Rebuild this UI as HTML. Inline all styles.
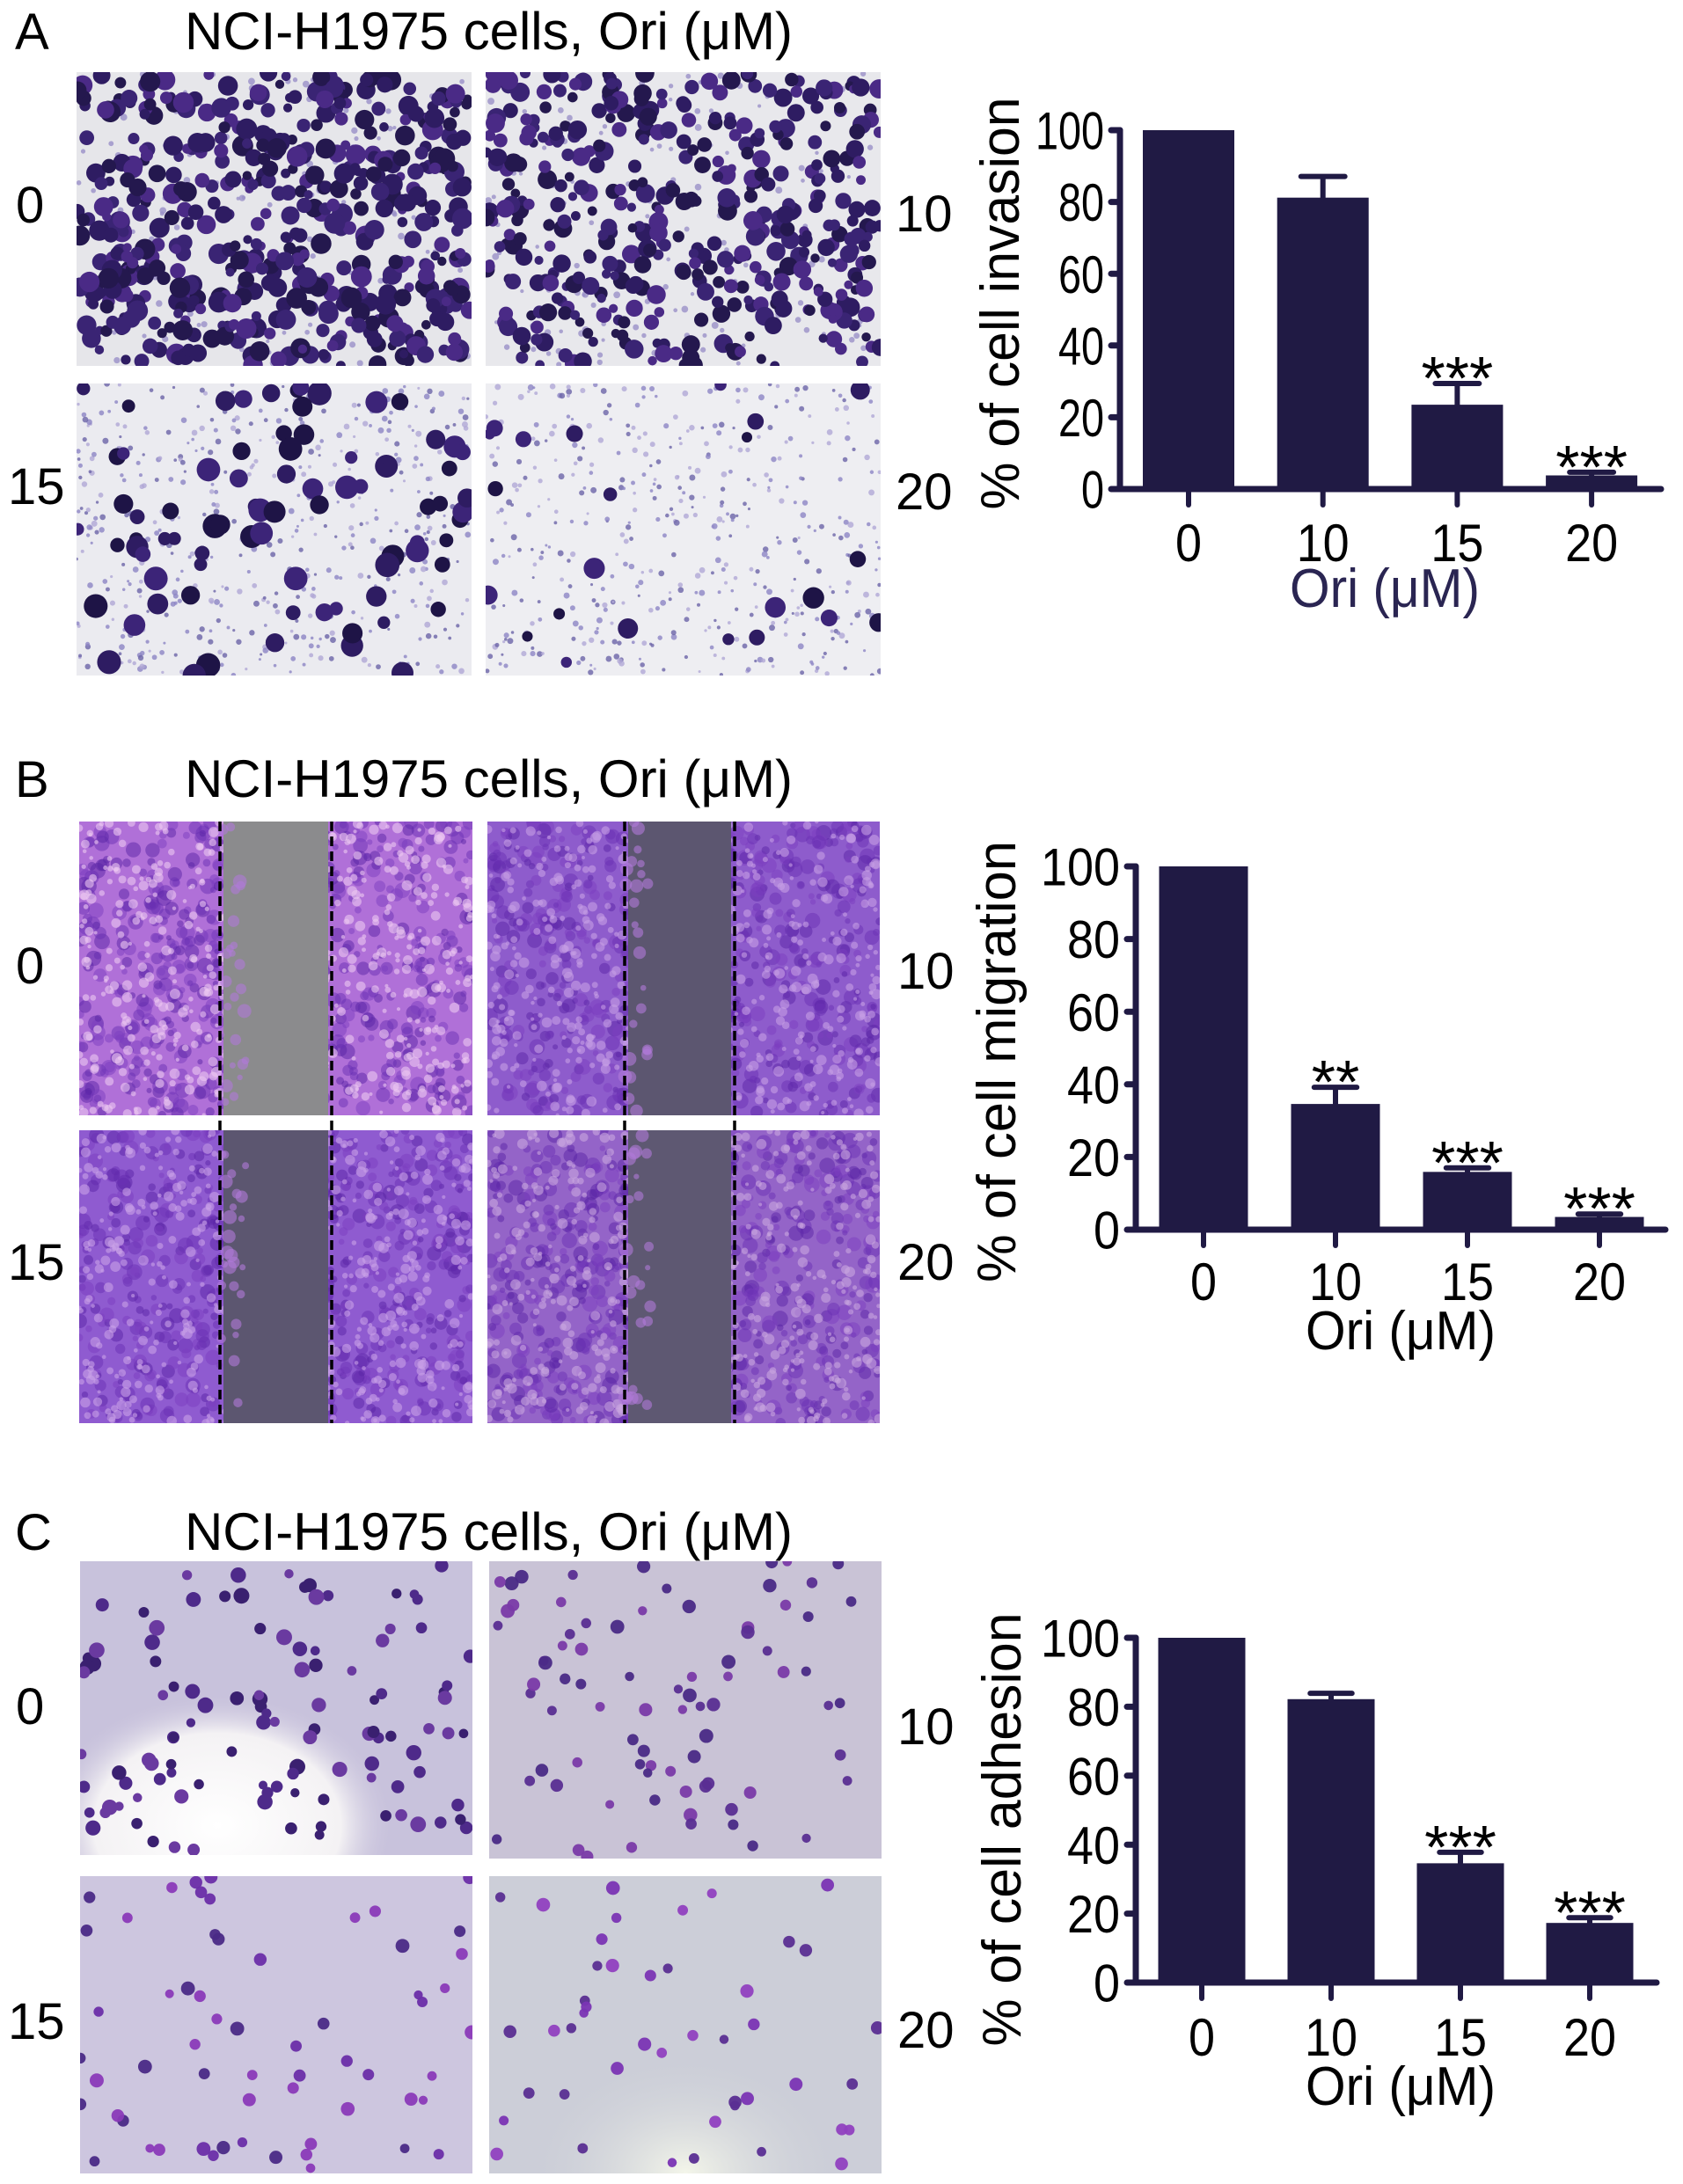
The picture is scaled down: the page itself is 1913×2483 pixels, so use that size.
<!DOCTYPE html>
<html><head><meta charset="utf-8">
<style>
html,body{margin:0;padding:0;background:#fff;}
svg{display:block;}
text{font-family:"Liberation Sans",Arial,sans-serif;}
</style></head>
<body>
<svg id="fig" xmlns="http://www.w3.org/2000/svg" width="1913" height="2483" viewBox="0 0 1913 2483">
<defs>
  <clipPath id="cA1"><rect x="87" y="82" width="449" height="334"/></clipPath>
  <clipPath id="cA2"><rect x="552" y="82" width="449" height="334"/></clipPath>
  <clipPath id="cA3"><rect x="87" y="436" width="449" height="332"/></clipPath>
  <clipPath id="cA4"><rect x="552" y="436" width="449" height="332"/></clipPath>
  <clipPath id="cB1"><rect x="90" y="934" width="447" height="334"/></clipPath>
  <clipPath id="cB2"><rect x="554" y="934" width="446" height="334"/></clipPath>
  <clipPath id="cB3"><rect x="90" y="1285" width="447" height="333"/></clipPath>
  <clipPath id="cB4"><rect x="554" y="1285" width="446" height="333"/></clipPath>
  <clipPath id="cC1"><rect x="91" y="1775" width="446" height="334"/></clipPath>
  <clipPath id="cC2"><rect x="556" y="1775" width="446" height="338"/></clipPath>
  <clipPath id="cC3"><rect x="91" y="2133" width="446" height="338"/></clipPath>
  <clipPath id="cC4"><rect x="556" y="2133" width="446" height="338"/></clipPath>
  <radialGradient id="whiteSpot" cx="0.35" cy="0.9" r="0.45"><stop offset="0" stop-color="#ffffff"/><stop offset="0.7" stop-color="#f4f2f4"/><stop offset="1" stop-color="#c9c3dc" stop-opacity="0"/></radialGradient>
  <radialGradient id="whiteSpot2" cx="0.5" cy="1" r="0.4"><stop offset="0" stop-color="#f4f6ea"/><stop offset="1" stop-color="#cdd0d8" stop-opacity="0"/></radialGradient>
</defs>

<!-- Panel headers -->
<text x="17" y="56" font-size="58">A</text>
<text x="210" y="56" font-size="60" textLength="691" lengthAdjust="spacingAndGlyphs">NCI-H1975 cells, Ori (μM)</text>
<text x="17" y="906" font-size="58">B</text>
<text x="210" y="906" font-size="60" textLength="691" lengthAdjust="spacingAndGlyphs">NCI-H1975 cells, Ori (μM)</text>
<text x="17" y="1762" font-size="58">C</text>
<text x="210" y="1762" font-size="60" textLength="691" lengthAdjust="spacingAndGlyphs">NCI-H1975 cells, Ori (μM)</text>

<!-- Row labels -->
<g font-size="58">
<text x="18" y="253">0</text>
<text x="9" y="573">15</text>
<text x="1018" y="263">10</text>
<text x="1018" y="579">20</text>
<text x="18" y="1118">0</text>
<text x="9" y="1455">15</text>
<text x="1020" y="1124">10</text>
<text x="1020" y="1455">20</text>
<text x="18" y="1960">0</text>
<text x="9" y="2318">15</text>
<text x="1020" y="1983">10</text>
<text x="1020" y="2328">20</text>
</g>

<g id="images"></g>
<g id="charts"></g>
</svg>

<script>
// ===== Chart data =====
const categories = ["0", "10", "15", "20"];
const yTickLabels = ["0", "20", "40", "60", "80", "100"];
const invasionValues = [100, 81.2, 23.5, 3.8];
const invasionErrors = [0, 5.9, 5.9, 0.9];
const invasionSig = ["", "", "***", "***"];
const migrationValues = [100, 34.6, 15.9, 3.5];
const migrationErrors = [0, 4.6, 1.1, 0.8];
const migrationSig = ["", "**", "***", "***"];
const adhesionValues = [100, 82.2, 34.6, 17.3];
const adhesionErrors = [0, 1.7, 3.2, 1.5];
const adhesionSig = ["", "", "***", "***"];

const NS = "http://www.w3.org/2000/svg";
const BAR = "#201a44";
function mk(tag, attrs, parent) {
  const e = document.createElementNS(NS, tag);
  for (const k in attrs) e.setAttribute(k, attrs[k]);
  parent.appendChild(e);
  return e;
}

function drawChart(cfg, values, errors, sig) {
  const g = mk("g", {}, document.getElementById("charts"));
  
  
  const yScale = v => cfg.y0 - (v / 100) * (cfg.y0 - cfg.y100);
  const xScale = i => cfg.c0 + i * cfg.step;
  values.forEach((v, i) => {
    const r = mk("rect", {x: xScale(i) - cfg.bw / 2, y: yScale(v), width: cfg.bw, height: cfg.y0 - yScale(v), fill: BAR}, g);
    
    
    if (errors[i] > 0) {
      const top = yScale(v + errors[i]);
      const eb = mk("path", {d: `M${xScale(i)} ${yScale(v)} V${top} M${xScale(i) - cfg.bw * 0.24} ${top} H${xScale(i) + cfg.bw * 0.24}`, stroke: BAR, "stroke-width": 6, fill: "none", "stroke-linecap": "round"}, g);
      
      
    }
    if (sig[i]) {
      const t = mk("text", {x: xScale(i), y: yScale(v + errors[i]) + 18, "font-size": 70, "text-anchor": "middle"}, g);
      t.textContent = sig[i];
      
      
    }
    const tk = mk("line", {x1: xScale(i), x2: xScale(i), y1: cfg.y0, y2: cfg.y0 + 18, stroke: BAR, "stroke-width": 6, "stroke-linecap": "round"}, g);
    
    
    const xl = mk("text", {x: xScale(i), y: cfg.xlabY, "font-size": 60, "text-anchor": "middle", textLength: categories[i].length * 30, lengthAdjust: "spacingAndGlyphs"}, g);
    xl.textContent = categories[i];
    
    
  });
  const ya = mk("line", {x1: cfg.ax, x2: cfg.ax, y1: cfg.y100, y2: cfg.y0, stroke: BAR, "stroke-width": 7, "stroke-linecap": "round"}, g);
  
  
  const xa = mk("line", {x1: cfg.ax - 8, x2: cfg.xend, y1: cfg.y0, y2: cfg.y0, stroke: BAR, "stroke-width": 7, "stroke-linecap": "round"}, g);
  
  
  yTickLabels.forEach(lbl => {
    const y = yScale(+lbl);
    const t = mk("line", {x1: cfg.ax - 10, x2: cfg.ax, y1: y, y2: y, stroke: BAR, "stroke-width": 7, "stroke-linecap": "round"}, g);
    
    
    const tl = mk("text", {x: cfg.ax - 18, y: y + cfg.tickFs * 0.36, "font-size": cfg.tickFs, "text-anchor": "end", textLength: lbl.length * cfg.digitW, lengthAdjust: "spacingAndGlyphs"}, g);
    tl.textContent = lbl;
    
    
  });
  const yt = mk("text", {x: 0, y: 0, "font-size": 62, "text-anchor": "middle", textLength: cfg.titleLen, lengthAdjust: "spacingAndGlyphs", transform: `translate(${cfg.titleX},${cfg.titleY}) rotate(-90)`}, g);
  yt.textContent = cfg.title;
  
  
  const xt = mk("text", {x: cfg.xtX, y: cfg.xtY, "font-size": 62, "text-anchor": "middle", fill: cfg.xtFill, textLength: 216, lengthAdjust: "spacingAndGlyphs"}, g);
  xt.textContent = "Ori (μM)";
  
  
}

drawChart({name: "invasion-chart", ax: 1273, y0: 556, y100: 148, c0: 1351, step: 152.7, bw: 104, xend: 1888, tickFs: 60, digitW: 26, xlabY: 638,
  title: "% of  cell invasion", titleLen: 469, titleX: 1158, titleY: 345, xtX: 1574, xtY: 690, xtFill: "#2a2552"}, invasionValues, invasionErrors, invasionSig);
drawChart({name: "migration-chart", ax: 1291, y0: 1398, y100: 985, c0: 1368, step: 150, bw: 101, xend: 1893, tickFs: 60, digitW: 30, xlabY: 1478,
  title: "% of  cell migration", titleLen: 502, titleX: 1154, titleY: 1207, xtX: 1592, xtY: 1534, xtFill: "#000"}, migrationValues, migrationErrors, migrationSig);
drawChart({name: "adhesion-chart", ax: 1291, y0: 2254, y100: 1862, c0: 1366, step: 147, bw: 99, xend: 1883, tickFs: 60, digitW: 30, xlabY: 2337,
  title: "% of  cell adhesion", titleLen: 493, titleX: 1160, titleY: 2080, xtX: 1592, xtY: 2393, xtFill: "#000"}, adhesionValues, adhesionErrors, adhesionSig);

// ===== Micrograph textures (decorative) =====
let seed = 12345;
function rnd() { seed = (seed * 1103515245 + 12345) % 2147483648; return seed / 2147483648; }
const imgG = document.getElementById("images");
function panel(name, clip, x, y, w, h, bg) {
  const g = mk("g", {"clip-path": `url(#${clip})`}, imgG);
  
  
  mk("rect", {x, y, width: w, height: h, fill: bg}, g);
  return g;
}
function dots(g, x, y, w, h, n, rmin, rmax, colors, op) {
  for (let i = 0; i < n; i++) {
    mk("circle", {cx: x + rnd() * w, cy: y + rnd() * h, r: rmin + rnd() * (rmax - rmin), fill: colors[Math.floor(rnd() * colors.length)], opacity: op}, g);
  }
}
let g;
g = panel("invasion-image-0", "cA1", 87, 82, 449, 334, "#e6e6ea");
dots(g, 87, 82, 449, 334, 150, 2, 4, ["#9a90c8"], 0.8);
dots(g, 87, 82, 449, 334, 520, 5, 12, ["#2e1c62", "#3a2474", "#4a2a86", "#24184e"], 1);
g = panel("invasion-image-10", "cA2", 552, 82, 449, 334, "#e8e8ec");
dots(g, 552, 82, 449, 334, 150, 2, 4, ["#9a90c8"], 0.8);
dots(g, 552, 82, 449, 334, 420, 5, 11, ["#2e1c62", "#3a2474", "#4a2a86", "#24184e"], 1);
g = panel("invasion-image-15", "cA3", 87, 436, 449, 332, "#ebebf0");
dots(g, 87, 436, 449, 332, 500, 1.5, 3.5, ["#8c84c4", "#6c64a8", "#b0a8d6"], 0.8);
dots(g, 87, 436, 449, 332, 80, 7, 14, ["#1e1446", "#2e1c62", "#3c2478"], 1);
g = panel("invasion-image-20", "cA4", 552, 436, 449, 332, "#eeeef2");
dots(g, 552, 436, 449, 332, 450, 1.5, 3.5, ["#8c84c4", "#6c64a8", "#b0a8d6"], 0.8);
dots(g, 552, 436, 449, 332, 24, 6, 13, ["#1e1446", "#2e1c62", "#3c2478"], 1);

function wound(name, clip, x, y, w, h, bg, band, bx1, bx2, light) {
  const gg = panel(name, clip, x, y, w, h, bg);
  dots(gg, x, y, w, h, 700, 3, 9, ["#6a2fb4", "#5a24a6", "#7b3ec0"], 0.5);
  dots(gg, x, y, w, h, 600, 2, 6, [light], 0.6);
  mk("rect", {x: bx1 + 4, y, width: bx2 - bx1 - 8, height: h, fill: band}, gg);
  dots(gg, bx1, y, 30, h, 25, 3, 8, ["#b07ad8"], 0.6);
  return gg;
}
wound("migration-image-0", "cB1", 90, 934, 447, 334, "#b070d8", "#8b8b8d", 250, 377, "#ecc8f2");
wound("migration-image-10", "cB2", 554, 934, 446, 334, "#8e5ccc", "#5c5670", 710, 835, "#c79ee4");
wound("migration-image-15", "cB3", 90, 1285, 447, 333, "#8f5bd0", "#5c5670", 250, 377, "#c9a2e8");
wound("migration-image-20", "cB4", 554, 1285, 446, 333, "#9464c8", "#5e5872", 710, 835, "#c9a6e0");
const dashG = mk("g", {stroke: "#000", "stroke-width": 3.5, "stroke-dasharray": "11 6"}, imgG);


[250, 377, 710, 835].forEach(xx => mk("line", {x1: xx, x2: xx, y1: 934, y2: 1618}, dashG));

g = panel("adhesion-image-0", "cC1", 91, 1775, 446, 334, "#c8c2dc");
mk("rect", {x: 91, y: 1775, width: 446, height: 334, fill: "url(#whiteSpot)"}, g);
dots(g, 91, 1775, 446, 334, 110, 5, 9, ["#3a2070", "#4e2a8a", "#6a3aa0"], 1);
g = panel("adhesion-image-10", "cC2", 556, 1775, 446, 338, "#c9c3d6");
dots(g, 556, 1775, 446, 338, 80, 5, 8, ["#4a2a86", "#7a3aa8", "#5a2e92"], 0.95);
g = panel("adhesion-image-15", "cC3", 91, 2133, 446, 338, "#cdc6df");
dots(g, 91, 2133, 446, 338, 60, 5, 8, ["#6a2ea8", "#8a3ab8", "#4a2a86"], 0.95);
g = panel("adhesion-image-20", "cC4", 556, 2133, 446, 338, "#ccced8");
mk("rect", {x: 556, y: 2133, width: 446, height: 338, fill: "url(#whiteSpot2)"}, g);
dots(g, 556, 2133, 446, 338, 45, 5, 8, ["#7a34b4", "#9040c0", "#5a2e92"], 0.95);
</script>
</body></html>
